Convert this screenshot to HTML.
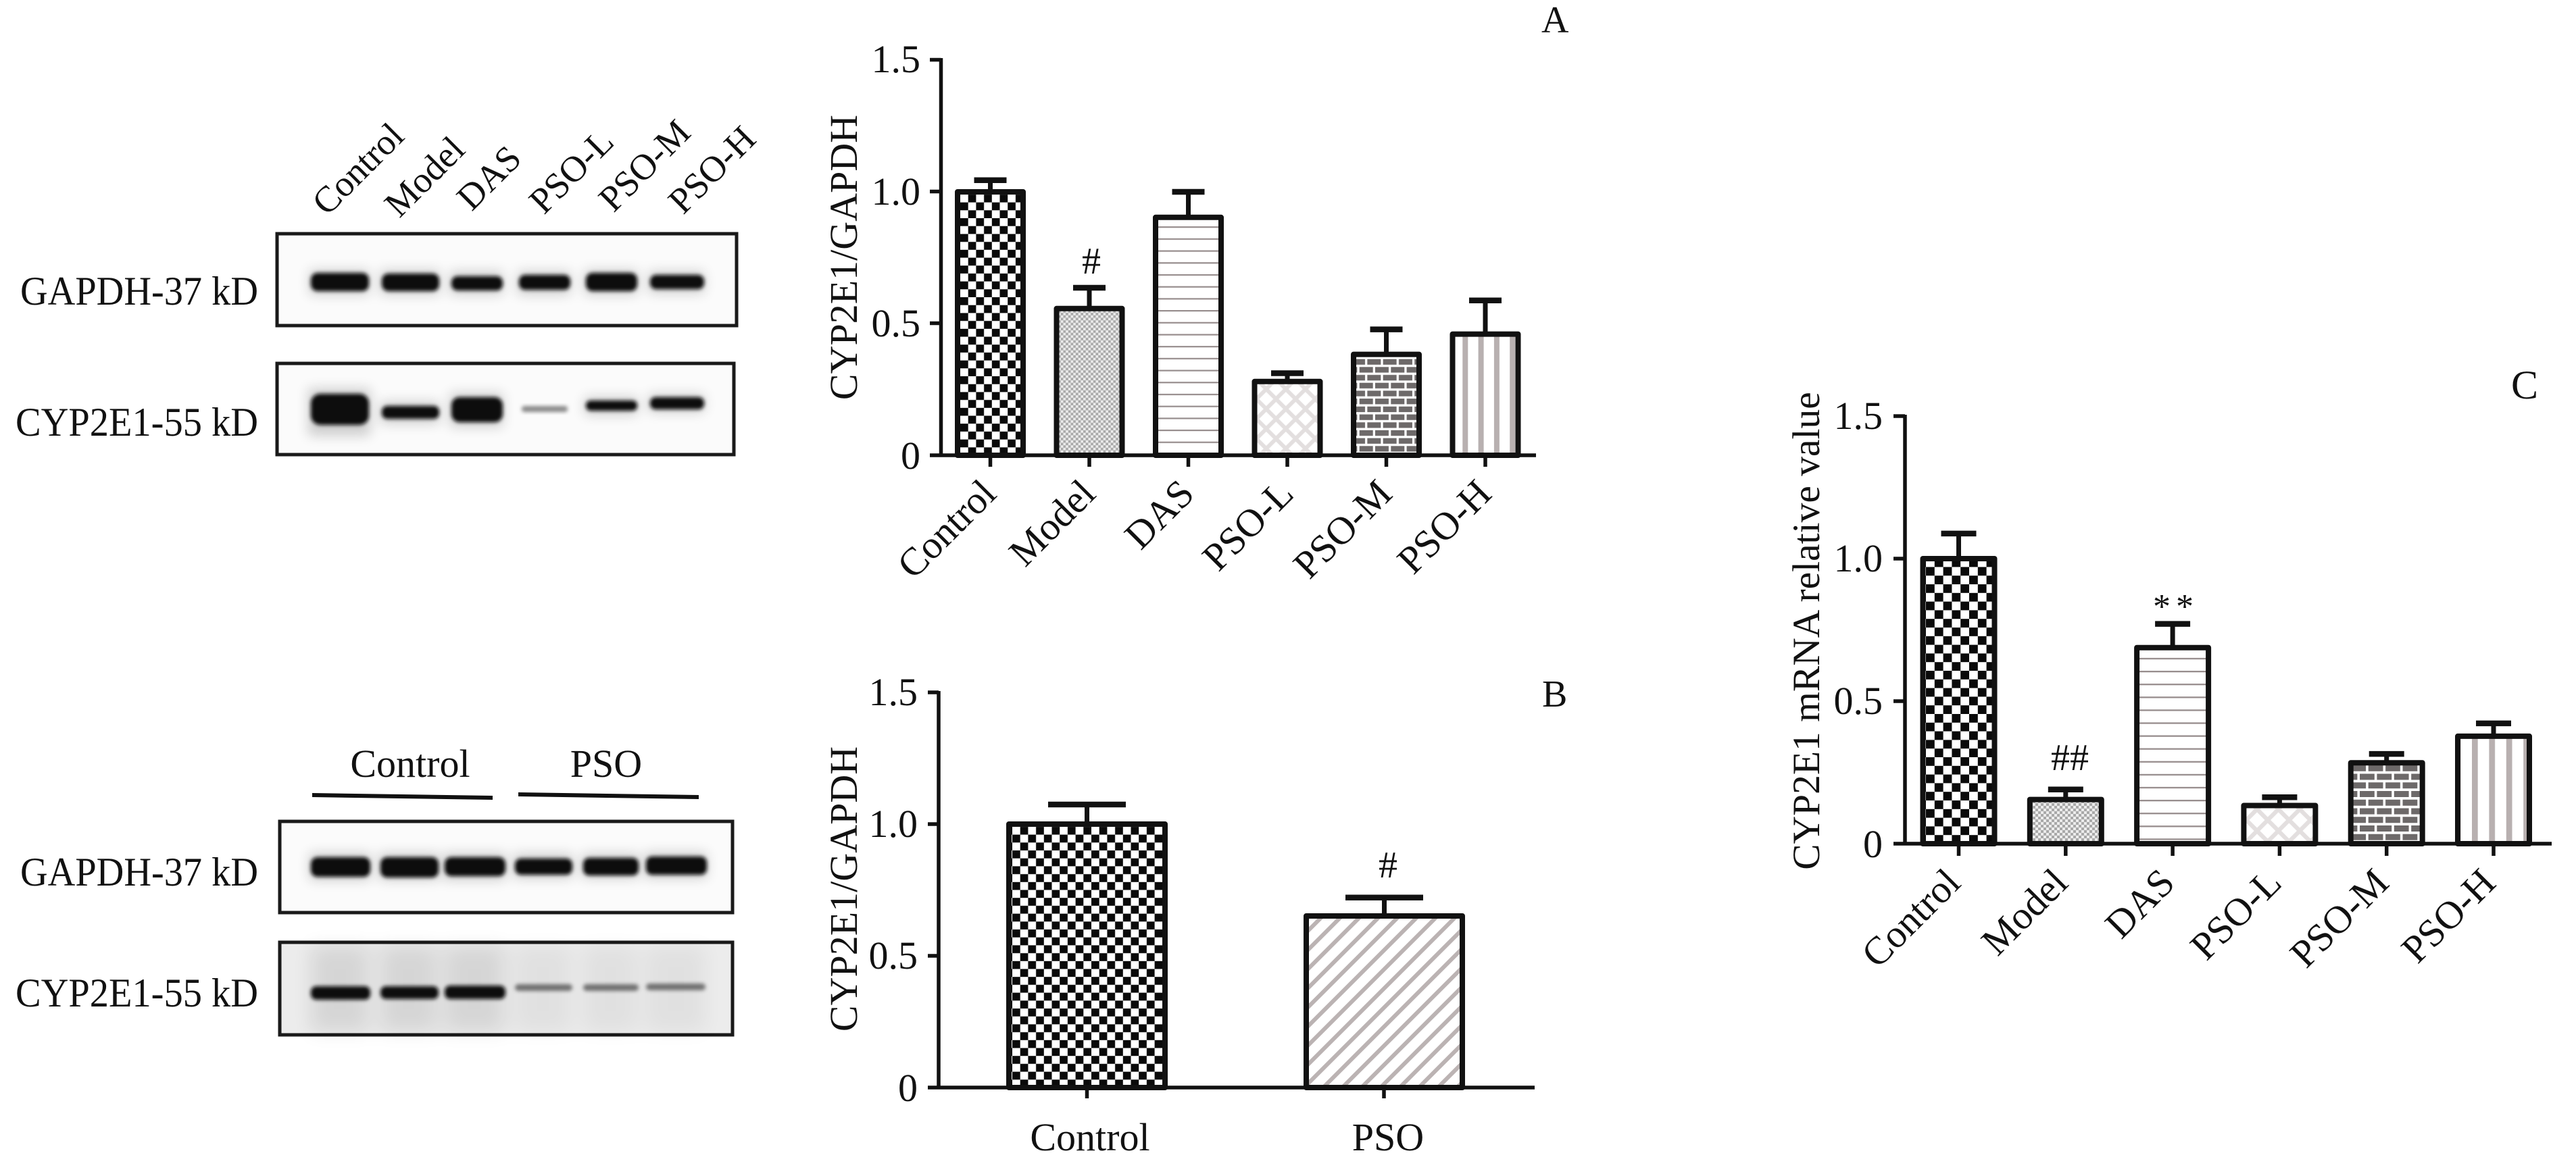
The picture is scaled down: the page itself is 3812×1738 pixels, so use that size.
<!DOCTYPE html>
<html><head><meta charset="utf-8"><style>
html,body{margin:0;padding:0;background:#fff;}
svg{display:block;}
text{font-family:"Liberation Serif","Times New Roman",serif;fill:#111;}
</style></head><body>
<svg width="3812" height="1738" viewBox="0 0 3812 1738" xmlns="http://www.w3.org/2000/svg">
<defs>
<filter id="b3" x="-20%" y="-50%" width="140%" height="200%"><feGaussianBlur stdDeviation="3"/></filter>
<filter id="b9" x="-30%" y="-100%" width="160%" height="300%"><feGaussianBlur stdDeviation="9"/></filter>
<filter id="b14" x="-30%" y="-30%" width="160%" height="160%"><feGaussianBlur stdDeviation="14"/></filter>
<!-- Panel A patterns -->
<pattern id="chkA" patternUnits="userSpaceOnUse" x="1421" y="674" width="23.4" height="23.4"><rect width="23.4" height="23.4" fill="#fff"/><rect width="11.7" height="11.7" fill="#0a0a0a"/><rect x="11.7" y="11.7" width="11.7" height="11.7" fill="#0a0a0a"/></pattern>
<pattern id="fineA" patternUnits="userSpaceOnUse" x="1566" y="674" width="7.4" height="7.4"><rect width="7.4" height="7.4" fill="#ececec"/><rect width="3.7" height="3.7" fill="#a9a9a9"/><rect x="3.7" y="3.7" width="3.7" height="3.7" fill="#a9a9a9"/></pattern>
<pattern id="hlA" patternUnits="userSpaceOnUse" x="0" y="653.7" width="20" height="17.7"><rect width="20" height="17.7" fill="#fff"/><rect width="20" height="2.2" fill="#978d8d"/></pattern>
<pattern id="diaA" patternUnits="userSpaceOnUse" x="1873.8" y="561.3" width="29" height="29.4"><rect width="29" height="29.4" fill="#e3dfdf"/><polygon points="14.5,4.2 25,14.7 14.5,25.2 4,14.7" fill="#fff"/><polygon points="0,-10.5 10.5,0 0,10.5 -10.5,0" fill="#fff"/><polygon points="29,-10.5 39.5,0 29,10.5 18.5,0" fill="#fff"/><polygon points="0,18.9 10.5,29.4 0,39.9 -10.5,29.4" fill="#fff"/><polygon points="29,18.9 39.5,29.4 29,39.9 18.5,29.4" fill="#fff"/></pattern>
<pattern id="brkA" patternUnits="userSpaceOnUse" x="2011.7" y="543.3" width="23.3" height="23.4"><rect width="23.3" height="23.4" fill="#fff"/><rect x="0" y="0" width="20" height="8.3" fill="#6d6969"/><rect x="11.65" y="11.7" width="20" height="8.3" fill="#6d6969"/><rect x="-11.65" y="11.7" width="20" height="8.3" fill="#6d6969"/></pattern>
<pattern id="vsA" patternUnits="userSpaceOnUse" x="2164.3" y="0" width="23.3" height="20"><rect width="23.3" height="20" fill="#fff"/><rect width="8" height="20" fill="#b8b0b0"/></pattern>
<!-- Panel B -->
<pattern id="chkB" patternUnits="userSpaceOnUse" x="1498" y="1610" width="23.4" height="23.4"><rect width="23.4" height="23.4" fill="#fff"/><rect width="11.7" height="11.7" fill="#0a0a0a"/><rect x="11.7" y="11.7" width="11.7" height="11.7" fill="#0a0a0a"/></pattern>
<pattern id="diagB" patternUnits="userSpaceOnUse" x="0" y="0" width="40" height="20" patternTransform="rotate(-45)"><rect width="40" height="20" fill="#fff"/><rect width="40" height="6" fill="#bbb3b3"/></pattern>
<!-- Panel C -->
<pattern id="chkC" patternUnits="userSpaceOnUse" x="2850" y="1249" width="25.6" height="25.6"><rect width="25.6" height="25.6" fill="#fff"/><rect width="12.8" height="12.8" fill="#0a0a0a"/><rect x="12.8" y="12.8" width="12.8" height="12.8" fill="#0a0a0a"/></pattern>
<pattern id="fineC" patternUnits="userSpaceOnUse" x="3008" y="1249" width="8" height="8"><rect width="8" height="8" fill="#ececec"/><rect width="4" height="4" fill="#a9a9a9"/><rect x="4" y="4" width="4" height="4" fill="#a9a9a9"/></pattern>
<pattern id="hlC" patternUnits="userSpaceOnUse" x="0" y="1241.3" width="20" height="19.1"><rect width="20" height="19.1" fill="#fff"/><rect width="20" height="2.3" fill="#978d8d"/></pattern>
<pattern id="diaC" patternUnits="userSpaceOnUse" x="3340" y="1150" width="31.6" height="32"><rect width="31.6" height="32" fill="#e3dfdf"/><polygon points="15.8,4.5 27.3,16 15.8,27.5 4.3,16" fill="#fff"/><polygon points="0,-11.5 11.5,0 0,11.5 -11.5,0" fill="#fff"/><polygon points="31.6,-11.5 43.1,0 31.6,11.5 20.1,0" fill="#fff"/><polygon points="0,20.5 11.5,32 0,43.5 -11.5,32" fill="#fff"/><polygon points="31.6,20.5 43.1,32 31.6,43.5 20.1,32" fill="#fff"/></pattern>
<pattern id="brkC" patternUnits="userSpaceOnUse" x="3492" y="1120" width="25.4" height="25.5"><rect width="25.4" height="25.5" fill="#fff"/><rect x="0" y="0" width="21.8" height="9" fill="#6d6969"/><rect x="12.7" y="12.75" width="21.8" height="9" fill="#6d6969"/><rect x="-12.7" y="12.75" width="21.8" height="9" fill="#6d6969"/></pattern>
<pattern id="vsC" patternUnits="userSpaceOnUse" x="3658" y="0" width="25.4" height="20"><rect width="25.4" height="20" fill="#fff"/><rect width="8.7" height="20" fill="#b8b0b0"/></pattern>
</defs>

<!-- ================= BLOT A ================= -->
<g>
<text x="382" y="451" font-size="60" text-anchor="end" textLength="352" lengthAdjust="spacingAndGlyphs">GAPDH-37 kD</text>
<text x="382" y="645" font-size="60" text-anchor="end" textLength="359" lengthAdjust="spacingAndGlyphs">CYP2E1-55 kD</text>

<text font-size="54" transform="translate(484,321) rotate(-45)">Control</text>
<text font-size="54" transform="translate(591,324) rotate(-45)">Model</text>
<text font-size="54" transform="translate(698,314) rotate(-45)">DAS</text>
<text font-size="54" transform="translate(805,319) rotate(-45)">PSO-L</text>
<text font-size="54" transform="translate(908,316) rotate(-45)">PSO-M</text>
<text font-size="54" transform="translate(1011,319) rotate(-45)">PSO-H</text>

<rect x="410" y="346" width="680" height="136" fill="#fbfbfb" stroke="#1a1a1a" stroke-width="5"/>
<g fill="#000" opacity="0.18" filter="url(#b9)">
<rect x="458" y="400" width="88" height="36"/><rect x="563" y="400" width="87" height="36"/><rect x="666" y="402" width="78" height="34"/><rect x="766" y="402" width="78" height="34"/><rect x="865" y="400" width="78" height="36"/><rect x="960" y="402" width="82" height="32"/>
</g>
<g fill="#0c0c0c" filter="url(#b3)">
<rect x="460" y="404" width="86" height="27" rx="10"/><rect x="565" y="405" width="85" height="26" rx="10"/><rect x="668" y="409" width="76" height="21" rx="9"/><rect x="768" y="407" width="76" height="22" rx="9"/><rect x="867" y="404" width="76" height="27" rx="10"/><rect x="962" y="407" width="80" height="21" rx="9"/>
</g>

<rect x="410" y="538" width="676" height="135" fill="#fbfbfb" stroke="#1a1a1a" stroke-width="5"/>
<g fill="#000" opacity="0.18" filter="url(#b9)">
<rect x="456" y="575" width="92" height="70"/><rect x="563" y="595" width="87" height="32"/><rect x="666" y="582" width="78" height="50"/><rect x="865" y="588" width="78" height="26"/><rect x="960" y="584" width="82" height="26"/>
</g>
<g fill="#0c0c0c" filter="url(#b3)">
<rect x="460" y="583" width="86" height="46" rx="14"/><rect x="565" y="601" width="85" height="19" rx="8"/><rect x="668" y="588" width="76" height="37" rx="12"/><rect x="867" y="593" width="76" height="15" rx="7"/><rect x="962" y="588" width="80" height="18" rx="8"/>
</g>
<rect x="772" y="601" width="68" height="9" rx="4" fill="#8a8a8a" filter="url(#b3)"/>
</g>

<!-- ================= BLOT B ================= -->
<g>
<text x="607" y="1150" font-size="58" text-anchor="middle">Control</text>
<text x="897" y="1150" font-size="58" text-anchor="middle">PSO</text>
<polygon points="462,1174 729,1178 729,1184 462,1180" fill="#111"/>
<polygon points="767,1173 1034,1177 1034,1183 767,1179" fill="#111"/>

<text x="382" y="1311" font-size="60" text-anchor="end" textLength="352" lengthAdjust="spacingAndGlyphs">GAPDH-37 kD</text>
<text x="382" y="1490" font-size="60" text-anchor="end" textLength="359" lengthAdjust="spacingAndGlyphs">CYP2E1-55 kD</text>

<rect x="414" y="1216" width="670" height="135" fill="#fbfbfb" stroke="#1a1a1a" stroke-width="5"/>
<g fill="#000" opacity="0.18" filter="url(#b9)">
<rect x="458" y="1263" width="90" height="40"/><rect x="561" y="1263" width="88" height="40"/><rect x="656" y="1263" width="92" height="40"/><rect x="760" y="1264" width="87" height="36"/><rect x="861" y="1264" width="84" height="36"/><rect x="954" y="1262" width="92" height="38"/>
</g>
<g fill="#0c0c0c" filter="url(#b3)">
<rect x="460" y="1269" width="88" height="29" rx="10"/><rect x="563" y="1269" width="86" height="30" rx="10"/><rect x="658" y="1269" width="90" height="28" rx="10"/><rect x="762" y="1271" width="85" height="24" rx="9"/><rect x="863" y="1270" width="82" height="26" rx="9"/><rect x="956" y="1268" width="90" height="27" rx="9"/>
</g>

<rect x="414" y="1395" width="670" height="137" fill="#ececec" stroke="#1a1a1a" stroke-width="5"/>
<g fill="#000" filter="url(#b14)" opacity="0.09">
<rect x="460" y="1400" width="86" height="128"/><rect x="563" y="1400" width="84" height="128"/><rect x="658" y="1400" width="88" height="128"/>
<rect x="762" y="1400" width="83" height="128" opacity="0.5"/><rect x="863" y="1400" width="80" height="128" opacity="0.5"/><rect x="956" y="1400" width="88" height="128" opacity="0.5"/>
</g>
<g fill="#0c0c0c" filter="url(#b3)">
<rect x="460" y="1460" width="88" height="20" rx="8"/><rect x="563" y="1460" width="86" height="19" rx="8"/><rect x="658" y="1459" width="90" height="20" rx="8"/>
</g>
<g fill="#555" filter="url(#b3)" opacity="0.8">
<rect x="762" y="1457" width="85" height="10" rx="5"/><rect x="863" y="1457" width="82" height="10" rx="5"/><rect x="956" y="1456" width="88" height="10" rx="5"/>
</g>
</g>

<!-- ================= PANEL A ================= -->
<g>
<text x="2281" y="48" font-size="56">A</text>
<text font-size="58" text-anchor="middle" transform="translate(1268,381) rotate(-90)">CYP2E1/GAPDH</text>
<g font-size="58" text-anchor="end">
<text x="1362" y="107">1.5</text><text x="1362" y="303">1.0</text><text x="1362" y="498">0.5</text><text x="1362" y="694">0</text>
</g>
<!-- bars -->
<g stroke="#111" stroke-width="8" stroke-linejoin="round">
<rect x="1417" y="284" width="97" height="390" fill="url(#chkA)"/>
<rect x="1563.5" y="456.8" width="97" height="217.2" fill="url(#fineA)"/>
<rect x="1710" y="321.8" width="97" height="352.2" fill="url(#hlA)"/>
<rect x="1856.5" y="564.8" width="97" height="109.2" fill="url(#diaA)"/>
<rect x="2003" y="524.6" width="97" height="149.4" fill="url(#brkA)"/>
<rect x="2149.5" y="494.6" width="97" height="179.4" fill="url(#vsA)"/>
</g>
<!-- error bars -->
<g stroke="#111" stroke-width="7">
<line x1="1465.5" y1="284" x2="1465.5" y2="266.8"/><line x1="1612" y1="456.8" x2="1612" y2="426"/><line x1="1758.5" y1="321.8" x2="1758.5" y2="284"/><line x1="1905" y1="564.8" x2="1905" y2="552.5"/><line x1="2051.5" y1="524.6" x2="2051.5" y2="487.6"/><line x1="2198" y1="494.6" x2="2198" y2="444.7"/>
</g>
<g stroke="#111" stroke-width="8.5">
<line x1="1441.5" y1="266.8" x2="1489.5" y2="266.8"/><line x1="1588" y1="426" x2="1636" y2="426"/><line x1="1734.5" y1="284" x2="1782.5" y2="284"/><line x1="1881" y1="552.5" x2="1929" y2="552.5"/><line x1="2027.5" y1="487.6" x2="2075.5" y2="487.6"/><line x1="2174" y1="444.7" x2="2222" y2="444.7"/>
</g>
<!-- axes -->
<g stroke="#111" stroke-width="5.5">
<line x1="1392.5" y1="86" x2="1392.5" y2="676"/>
<line x1="1376" y1="674" x2="2273" y2="674"/>
<line x1="1376" y1="88.5" x2="1392.5" y2="88.5"/><line x1="1376" y1="283.5" x2="1392.5" y2="283.5"/><line x1="1376" y1="478.5" x2="1392.5" y2="478.5"/>
<line x1="1465.5" y1="674" x2="1465.5" y2="691"/><line x1="1612" y1="674" x2="1612" y2="691"/><line x1="1758.5" y1="674" x2="1758.5" y2="691"/><line x1="1905" y1="674" x2="1905" y2="691"/><line x1="2051.5" y1="674" x2="2051.5" y2="691"/><line x1="2198" y1="674" x2="2198" y2="691"/>
</g>
<text x="1615" y="405" font-size="56" text-anchor="middle">#</text>
<g font-size="58" text-anchor="end">
<text transform="translate(1477,734) rotate(-45)">Control</text>
<text transform="translate(1624,734) rotate(-45)">Model</text>
<text transform="translate(1770,734) rotate(-45)">DAS</text>
<text transform="translate(1917,734) rotate(-45)">PSO-L</text>
<text transform="translate(2063,734) rotate(-45)">PSO-M</text>
<text transform="translate(2210,734) rotate(-45)">PSO-H</text>
</g>
</g>

<!-- ================= PANEL B ================= -->
<g>
<text x="2282" y="1046" font-size="56">B</text>
<text font-size="58" text-anchor="middle" transform="translate(1268,1316) rotate(-90)">CYP2E1/GAPDH</text>
<g font-size="58" text-anchor="end">
<text x="1358" y="1044">1.5</text><text x="1358" y="1239">1.0</text><text x="1358" y="1434">0.5</text><text x="1358" y="1630">0</text>
</g>
<g stroke="#111" stroke-width="8" stroke-linejoin="round">
<rect x="1493" y="1220" width="231" height="390" fill="url(#chkB)"/>
<rect x="1933" y="1356" width="231" height="254" fill="url(#diagB)"/>
</g>
<g stroke="#111" stroke-width="7">
<line x1="1608.5" y1="1220" x2="1608.5" y2="1191"/><line x1="2048.5" y1="1356" x2="2048.5" y2="1328.7"/>
</g>
<g stroke="#111" stroke-width="8.5">
<line x1="1551" y1="1191" x2="1666" y2="1191"/><line x1="1991" y1="1328.7" x2="2106" y2="1328.7"/>
</g>
<g stroke="#111" stroke-width="5.5">
<line x1="1389" y1="1023" x2="1389" y2="1612"/>
<line x1="1373" y1="1610" x2="2271" y2="1610"/>
<line x1="1373" y1="1025" x2="1389" y2="1025"/><line x1="1373" y1="1220" x2="1389" y2="1220"/><line x1="1373" y1="1415" x2="1389" y2="1415"/>
<line x1="1608.5" y1="1610" x2="1608.5" y2="1626"/><line x1="2048" y1="1610" x2="2048" y2="1626"/>
</g>
<text x="2054" y="1299" font-size="56" text-anchor="middle">#</text>
<text x="1613" y="1703" font-size="58" text-anchor="middle">Control</text>
<text x="2054" y="1703" font-size="58" text-anchor="middle">PSO</text>
</g>

<!-- ================= PANEL C ================= -->
<g>
<text x="3716" y="590" font-size="60">C</text>
<text font-size="57.5" text-anchor="middle" transform="translate(2692,934) rotate(-90)">CYP2E1 mRNA relative value</text>
<g font-size="58" text-anchor="end">
<text x="2786" y="635">1.5</text><text x="2786" y="846">1.0</text><text x="2786" y="1057">0.5</text><text x="2786" y="1269">0</text>
</g>
<g stroke="#111" stroke-width="8" stroke-linejoin="round">
<rect x="2845.5" y="827" width="106" height="422" fill="url(#chkC)"/>
<rect x="3003.8" y="1183.6" width="106" height="65.4" fill="url(#fineC)"/>
<rect x="3162.1" y="958.7" width="106" height="290.3" fill="url(#hlC)"/>
<rect x="3320.4" y="1192.5" width="106" height="56.5" fill="url(#diaC)"/>
<rect x="3478.7" y="1129.2" width="106" height="119.8" fill="url(#brkC)"/>
<rect x="3637" y="1089.9" width="106" height="159.1" fill="url(#vsC)"/>
</g>
<g stroke="#111" stroke-width="7">
<line x1="2898.5" y1="827" x2="2898.5" y2="789.9"/><line x1="3056.8" y1="1183.6" x2="3056.8" y2="1168.8"/><line x1="3215.1" y1="958.7" x2="3215.1" y2="923.6"/><line x1="3373.4" y1="1192.5" x2="3373.4" y2="1180.2"/><line x1="3531.7" y1="1129.2" x2="3531.7" y2="1116.1"/><line x1="3690" y1="1089.9" x2="3690" y2="1070.9"/>
</g>
<g stroke="#111" stroke-width="8.5">
<line x1="2872.5" y1="789.9" x2="2924.5" y2="789.9"/><line x1="3030.8" y1="1168.8" x2="3082.8" y2="1168.8"/><line x1="3189.1" y1="923.6" x2="3241.1" y2="923.6"/><line x1="3347.4" y1="1180.2" x2="3399.4" y2="1180.2"/><line x1="3505.7" y1="1116.1" x2="3557.7" y2="1116.1"/><line x1="3664" y1="1070.9" x2="3716" y2="1070.9"/>
</g>
<g stroke="#111" stroke-width="5.5">
<line x1="2819" y1="614" x2="2819" y2="1251"/>
<line x1="2802" y1="1249" x2="3776" y2="1249"/>
<line x1="2802" y1="616" x2="2819" y2="616"/><line x1="2802" y1="827" x2="2819" y2="827"/><line x1="2802" y1="1038" x2="2819" y2="1038"/>
<line x1="2898.5" y1="1249" x2="2898.5" y2="1267"/><line x1="3056.8" y1="1249" x2="3056.8" y2="1267"/><line x1="3215.1" y1="1249" x2="3215.1" y2="1267"/><line x1="3373.4" y1="1249" x2="3373.4" y2="1267"/><line x1="3531.7" y1="1249" x2="3531.7" y2="1267"/><line x1="3690" y1="1249" x2="3690" y2="1267"/>
</g>
<text x="3063" y="1140" font-size="56" text-anchor="middle">##</text>
<text x="3199" y="915" font-size="52" text-anchor="middle">*</text>
<text x="3233" y="915" font-size="52" text-anchor="middle">*</text>
<g font-size="58" text-anchor="end">
<text transform="translate(2904,1310) rotate(-45)">Control</text>
<text transform="translate(3063,1310) rotate(-45)">Model</text>
<text transform="translate(3221,1310) rotate(-45)">DAS</text>
<text transform="translate(3379,1310) rotate(-45)">PSO-L</text>
<text transform="translate(3538,1310) rotate(-45)">PSO-M</text>
<text transform="translate(3696,1310) rotate(-45)">PSO-H</text>
</g>
</g>
</svg>
</body></html>
